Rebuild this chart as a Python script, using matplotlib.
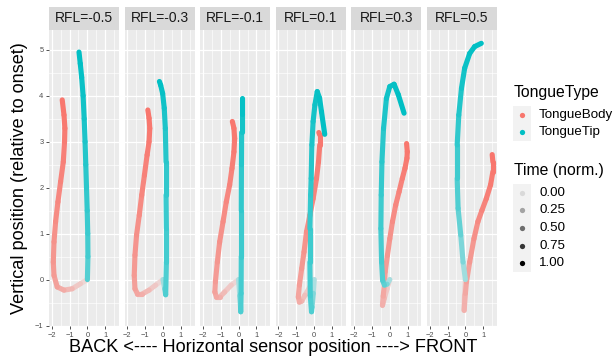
import matplotlib
matplotlib.use("Agg")
import matplotlib.pyplot as plt
import numpy as np
from matplotlib.collections import LineCollection
from matplotlib.patches import Rectangle
from matplotlib.colors import to_rgb

plt.rcParams['font.family'] = ['Liberation Sans', 'DejaVu Sans']

# facet values
rfl_values = [-0.5, -0.3, -0.1, 0.1, 0.3, 0.5]
tongue_types = ["TongueBody", "TongueTip"]
type_colors = ["#F8766D", "#00BFC4"]
time_breaks = [0.00, 0.25, 0.50, 0.75, 1.00]

# trajectories: (x, y, normalised time)
body_m05 = [(0.00, 0.00, 0.00), (-0.39, -0.09, 0.08), (-0.85, -0.20, 0.22), (-1.31, -0.23, 0.35),
            (-1.69, -0.16, 0.45), (-1.87, 0.09, 0.52), (-1.91, 0.38, 0.57), (-1.87, 0.82, 0.62),
            (-1.78, 1.26, 0.67), (-1.65, 1.69, 0.72), (-1.50, 2.13, 0.77), (-1.35, 2.56, 0.82),
            (-1.28, 3.00, 0.87), (-1.26, 3.29, 0.91), (-1.31, 3.58, 0.95), (-1.41, 3.91, 1.00)]
tip_m05 = [(0.00, 0.00, 0.45), (0.03, 0.50, 0.55), (0.02, 1.00, 0.60), (-0.01, 1.50, 0.64),
           (-0.05, 2.00, 0.68), (-0.09, 2.50, 0.72), (-0.13, 3.00, 0.76), (-0.18, 3.50, 0.81),
           (-0.24, 4.00, 0.87), (-0.32, 4.40, 0.92), (-0.40, 4.70, 0.96), (-0.47, 4.95, 1.00)]

body_m03 = [(0.00, 0.00, 0.00), (-0.41, -0.12, 0.10), (-0.78, -0.23, 0.22), (-1.15, -0.31, 0.33),
            (-1.43, -0.31, 0.42), (-1.57, -0.20, 0.48), (-1.61, 0.09, 0.53), (-1.57, 0.53, 0.58),
            (-1.48, 0.97, 0.63), (-1.33, 1.40, 0.68), (-1.19, 1.84, 0.73), (-1.04, 2.27, 0.79),
            (-0.89, 2.71, 0.85), (-0.78, 3.00, 0.89), (-0.74, 3.29, 0.93), (-0.78, 3.51, 0.97),
            (-0.85, 3.69, 1.00)]
tip_m03 = [(0.00, 0.00, 0.05), (0.10, -0.20, 0.30), (0.15, -0.33, 0.50), (0.19, 0.38, 0.55),
           (0.19, 1.11, 0.60), (0.17, 1.84, 0.64), (0.17, 2.56, 0.69), (0.13, 3.29, 0.75),
           (0.07, 3.73, 0.82), (-0.02, 4.05, 0.90), (-0.13, 4.23, 0.96), (-0.20, 4.31, 1.00)]

body_m01 = [(0.00, 0.00, 0.00), (-0.41, -0.12, 0.10), (-0.78, -0.27, 0.22), (-1.06, -0.38, 0.32),
            (-1.24, -0.38, 0.40), (-1.33, -0.27, 0.46), (-1.30, -0.05, 0.51), (-1.19, 0.38, 0.57),
            (-1.06, 0.82, 0.62), (-0.87, 1.26, 0.67), (-0.69, 1.69, 0.72), (-0.50, 2.06, 0.77),
            (-0.37, 2.42, 0.82), (-0.26, 2.78, 0.87), (-0.22, 3.07, 0.92), (-0.26, 3.29, 0.96),
            (-0.35, 3.44, 1.00)]
tip_m01 = [(0.00, 0.00, 0.05), (0.07, -0.35, 0.25), (0.11, -0.60, 0.45), (0.12, -0.70, 0.52),
           (0.14, -0.30, 0.55), (0.15, 0.50, 0.58), (0.15, 1.50, 0.63), (0.16, 2.50, 0.70),
           (0.17, 3.20, 0.78), (0.17, 3.60, 0.88), (0.17, 3.94, 1.00)]

body_p01 = [(0.00, 0.00, 0.00), (-0.24, -0.16, 0.08), (-0.52, -0.34, 0.18), (-0.70, -0.47, 0.28),
            (-0.83, -0.49, 0.36), (-0.89, -0.38, 0.43), (-0.83, -0.12, 0.49), (-0.70, 0.24, 0.55),
            (-0.57, 0.60, 0.60), (-0.43, 1.04, 0.65), (-0.24, 1.40, 0.70), (-0.06, 1.76, 0.75),
            (0.13, 2.20, 0.81), (0.24, 2.56, 0.86), (0.31, 2.93, 0.92), (0.31, 3.15, 0.97),
            (0.26, 3.20, 1.00)]
tip_p01 = [(0.00, 0.00, 0.05), (-0.05, -0.30, 0.20), (-0.12, -0.60, 0.40), (-0.15, -0.70, 0.50),
           (-0.22, -0.35, 0.54), (-0.24, 0.38, 0.58), (-0.24, 1.11, 0.62), (-0.20, 1.84, 0.67),
           (-0.17, 2.20, 0.70), (-0.13, 2.93, 0.75), (-0.06, 3.44, 0.80), (0.04, 3.80, 0.85),
           (0.17, 4.09, 0.90), (0.30, 3.95, 0.93), (0.41, 3.65, 0.96), (0.59, 3.16, 1.00)]

body_p03 = [(0.00, 0.00, 0.00), (-0.15, -0.20, 0.10), (-0.30, -0.40, 0.22), (-0.41, -0.56, 0.32),
            (-0.37, -0.36, 0.40), (-0.30, -0.10, 0.46), (-0.26, 0.17, 0.51), (-0.13, 0.53, 0.56),
            (0.00, 0.89, 0.61), (0.15, 1.26, 0.66), (0.33, 1.62, 0.72), (0.52, 1.91, 0.77),
            (0.70, 2.20, 0.83), (0.85, 2.42, 0.88), (0.96, 2.64, 0.93), (0.98, 2.78, 0.96),
            (0.94, 2.96, 1.00)]
tip_p03 = [(0.00, 0.00, 0.05), (-0.15, -0.10, 0.25), (-0.30, -0.12, 0.42), (-0.40, -0.02, 0.50),
           (-0.46, 0.38, 0.54), (-0.50, 1.11, 0.58), (-0.48, 1.84, 0.62), (-0.44, 2.56, 0.67),
           (-0.35, 3.29, 0.74), (-0.19, 3.94, 0.82), (0.00, 4.20, 0.88), (0.24, 4.25, 0.92),
           (0.48, 4.02, 0.96), (0.80, 3.62, 1.00)]

body_p05 = [(0.00, 0.00, 0.00), (-0.05, -0.35, 0.15), (-0.07, -0.67, 0.30), (0.00, -0.30, 0.40),
            (0.06, -0.05, 0.45), (0.24, 0.38, 0.53), (0.48, 0.89, 0.62), (0.70, 1.26, 0.69),
            (0.93, 1.51, 0.75), (1.17, 1.76, 0.81), (1.41, 2.06, 0.88), (1.54, 2.35, 0.93),
            (1.54, 2.56, 0.97), (1.50, 2.72, 1.00)]
tip_p05 = [(0.00, 0.00, 0.10), (-0.13, 0.38, 0.25), (-0.26, 0.97, 0.38), (-0.41, 1.55, 0.48),
           (-0.46, 2.20, 0.56), (-0.46, 2.93, 0.64), (-0.37, 3.58, 0.72), (-0.22, 4.16, 0.80),
           (-0.04, 4.60, 0.87), (0.24, 4.92, 0.93), (0.52, 5.07, 0.97), (0.89, 5.14, 1.00)]

body_tracks = [body_m05, body_m03, body_m01, body_p01, body_p03, body_p05]
tip_tracks = [tip_m05, tip_m03, tip_m01, tip_p01, tip_p03, tip_p05]

x_ticks = [-2, -1, 0, 1]
y_ticks = [-1, 0, 1, 2, 3, 4, 5]

panel_bg = "#EBEBEB"


def time_alpha(t):
    # ggplot scale_alpha default range 0.1 .. 1
    return 0.1 + 0.9 * np.asarray(t)


def draw_track(ax, track, color):
    pts = np.array(track)
    segs = np.stack([pts[:-1, :2], pts[1:, :2]], axis=1)
    a = time_alpha((pts[:-1, 2] + pts[1:, 2]) / 2)
    # the original points overlap a little, so they read a bit darker
    a = 1 - (1 - a) ** 1.3
    c = np.array(to_rgb(color))
    bg = np.array(to_rgb(panel_bg))
    cols = a[:, None] * c + (1 - a[:, None]) * bg
    lc = LineCollection(segs, colors=cols, linewidths=3.7, capstyle='round', joinstyle='round')
    ax.add_collection(lc)


W, H = 614, 360
fig = plt.figure(figsize=(W / 100, H / 100), dpi=100)

panel_w = 70
panel_top, panel_bottom = 30, 326
strip_h = 23

for i, rfl in enumerate(rfl_values):
    left = 49 + i * 75.6
    ax = fig.add_axes([left / W, 1 - panel_bottom / H, panel_w / W, (panel_bottom - panel_top) / H])
    ax.set_facecolor(panel_bg)
    for s in ax.spines.values():
        s.set_visible(False)
    ax.set_xlim(-2.15, 1.77)
    ax.set_ylim(-1.01, 5.43)
    ax.set_xticks(x_ticks)
    ax.set_yticks(y_ticks)
    ax.set_xticks([-1.5, -0.5, 0.5, 1.5], minor=True)
    ax.set_yticks([-0.5, 0.5, 1.5, 2.5, 3.5, 4.5], minor=True)
    ax.grid(which='major', color='white', linewidth=0.9)
    ax.grid(which='minor', color='white', linewidth=0.45)
    ax.set_axisbelow(True)
    ax.tick_params(which='major', length=2.5, width=0.6, color='#333333',
                   labelsize=5.4, labelcolor='#4D4D4D', pad=1.5)
    ax.tick_params(which='minor', length=0)
    if i > 0:
        ax.tick_params(axis='y', labelleft=False, length=0)

    draw_track(ax, body_tracks[i], type_colors[0])
    draw_track(ax, tip_tracks[i], type_colors[1])

    frac = strip_h / (panel_bottom - panel_top)
    ax.add_patch(Rectangle((0, 1), 1, frac, transform=ax.transAxes, clip_on=False,
                           facecolor="#D9D9D9", edgecolor='none'))
    ax.text(0.5, 1 + frac / 2, "RFL=%g" % rfl, transform=ax.transAxes, ha='center',
            va='center', fontsize=10, color='#1A1A1A')

fig.text(273 / W, 1 - 347 / H, "BACK <---- Horizontal sensor position ----> FRONT",
         ha='center', va='center', fontsize=13.1, color='black')
fig.text(20 / W, 1 - 178 / H, "Vertical position (relative to onset)", rotation=90,
         ha='center', va='center', fontsize=13.1, color='black')

# legends drawn in pixel space
leg = fig.add_axes([0, 0, 1, 1], facecolor='none')
leg.set_xlim(0, W)
leg.set_ylim(H, 0)
leg.axis('off')

leg.text(514, 92, "TongueType", fontsize=11.3, va='center', ha='left')
for k, (name, col) in enumerate(zip(tongue_types, type_colors)):
    yk = 106 + k * 17.5
    leg.add_patch(Rectangle((513, yk), 18, 17.5, facecolor='#F2F2F2', edgecolor='none'))
    leg.plot(522, yk + 8.75, 'o', color=col, markersize=3.8, markeredgewidth=0)
    leg.text(539, yk + 8.75, name, fontsize=9.6, va='center', ha='left')

leg.text(514, 170, "Time (norm.)", fontsize=11.3, va='center', ha='left')
for k, tb in enumerate(time_breaks):
    yk = 184 + k * 17.6
    leg.add_patch(Rectangle((513, yk), 18, 17.6, facecolor='#F2F2F2', edgecolor='none'))
    leg.plot(522, yk + 8.8, 'o', color='black', alpha=float(time_alpha(tb)),
             markersize=3.8, markeredgewidth=0)
    leg.text(539, yk + 8.8, "%.2f" % tb, fontsize=9.6, va='center', ha='left')

fig.savefig("out.png", dpi=100)
